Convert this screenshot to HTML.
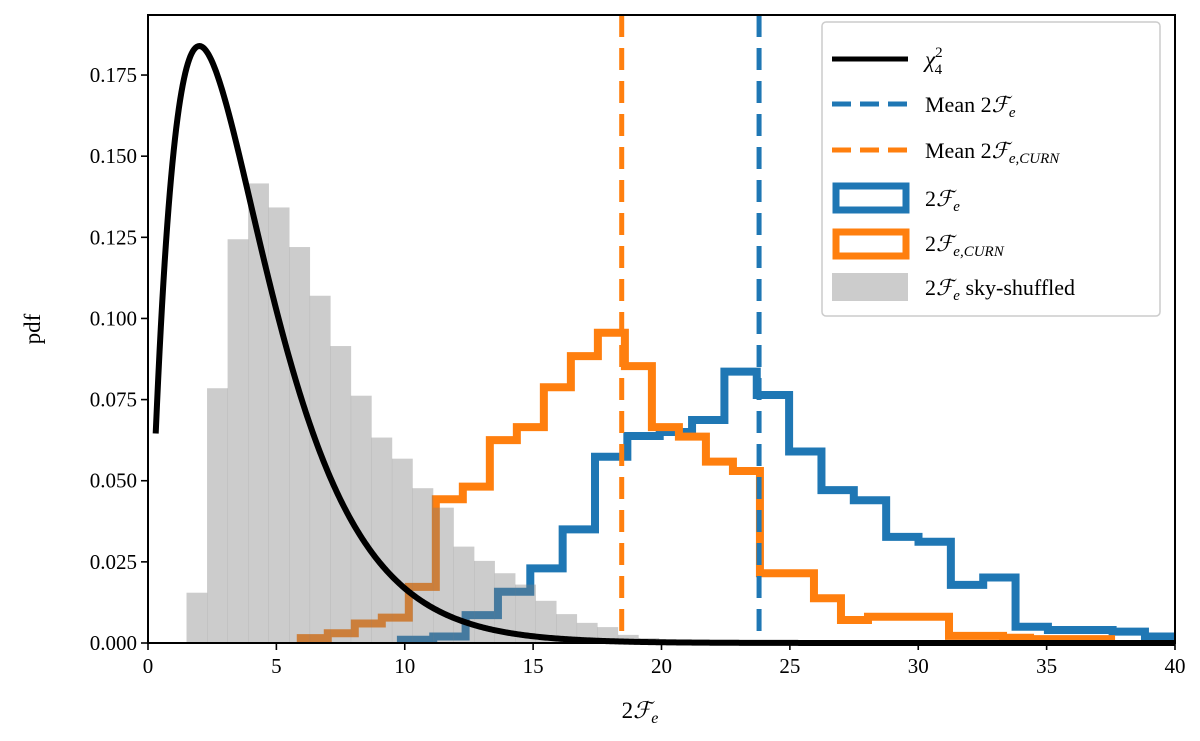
<!DOCTYPE html>
<html><head><meta charset="utf-8"><style>
body{margin:0;background:#fff;}
svg{display:block;font-family:"Liberation Serif",serif;}
</style></head><body>
<svg id="chart" width="1200" height="741" viewBox="0 0 1200 741">
<g id="plot"></g>
<g><text x="640" y="718" text-anchor="middle" font-size="23">2<tspan font-style="italic">ℱ</tspan><tspan font-size="16" font-style="italic" dy="5">e</tspan></text></g>
<text x="40" y="329" text-anchor="middle" font-size="23" transform="rotate(-90 40 329)">pdf</text>
<g>
<rect x="822" y="22" width="338" height="294" rx="4" fill="#fff" fill-opacity="0.85" stroke="#ccc" stroke-width="1.5"/>
<g><line x1="832" x2="908" y1="59" y2="59" stroke="#000" stroke-width="5"/><text x="925" y="67" font-size="23" font-style="italic">χ<tspan font-size="15" dy="-10" font-style="normal">2</tspan><tspan font-size="15" dx="-8" dy="17" font-style="normal">4</tspan></text></g>
<g><line x1="832" x2="908" y1="104" y2="104" stroke="#1f77b4" stroke-width="5" stroke-dasharray="19 9"/><text x="925" y="112" font-size="22">Mean 2<tspan font-style="italic">ℱ</tspan><tspan font-size="15" font-style="italic" dy="5">e</tspan></text></g>
<g><line x1="832" x2="908" y1="150" y2="150" stroke="#ff7f0e" stroke-width="5" stroke-dasharray="19 9"/><text x="925" y="158" font-size="22">Mean 2<tspan font-style="italic">ℱ</tspan><tspan font-size="15" font-style="italic" dy="5">e,CURN</tspan></text></g>
<g><rect x="836" y="186" width="70" height="24" fill="none" stroke="#1f77b4" stroke-width="7"/><text x="925" y="206" font-size="22">2<tspan font-style="italic">ℱ</tspan><tspan font-size="15" font-style="italic" dy="5">e</tspan></text></g>
<g><rect x="836" y="232" width="70" height="24" fill="none" stroke="#ff7f0e" stroke-width="7"/><text x="925" y="251" font-size="22">2<tspan font-style="italic">ℱ</tspan><tspan font-size="15" font-style="italic" dy="5">e,CURN</tspan></text></g>
<g><rect x="832" y="273" width="76" height="28" fill="#808080" fill-opacity="0.4"/><text x="925" y="295" font-size="22">2<tspan font-style="italic">ℱ</tspan><tspan font-size="15" font-style="italic" dy="5">e</tspan><tspan dy="-5"> sky-shuffled</tspan></text></g>
</g>
</svg>
<script>
// ---- data ----
const grayStart = 1.5, grayWidth = 0.8;
const grayValues = [0.0155,0.0785,0.1244,0.1416,0.1342,0.122,0.107,0.0915,0.0762,0.0633,0.0568,0.0477,0.0417,0.0297,0.0253,0.0215,0.018,0.013,0.0089,0.0062,0.0049,0.0025,0.0015,0.001,0.0005,0.0003];
const blueStart = 9.85, blueWidth = 1.26;
const blueValues = [0.001,0.002,0.0086,0.0158,0.023,0.035,0.0574,0.0638,0.065,0.0687,0.0836,0.0764,0.059,0.0471,0.044,0.0327,0.0312,0.0179,0.0202,0.005,0.004,0.004,0.0035,0.002];
const orangeStart = 5.95, orangeWidth = 1.052;
const orangeValues = [0.0015,0.003,0.006,0.0078,0.0173,0.0443,0.0482,0.0625,0.0665,0.0788,0.0884,0.0956,0.0853,0.0665,0.0636,0.0559,0.053,0.0215,0.0215,0.0138,0.0071,0.0081,0.0081,0.0081,0.0022,0.0022,0.0016,0.0012,0.0012,0.0012];
const meanBlue = [23.8];
const meanOrange = [18.45];
const chiDof = [4];
const chiRange = [0.3, 40];
const xTicks = [0,5,10,15,20,25,30,35,40];
const yTicks = [0,0.025,0.05,0.075,0.1,0.125,0.15,0.175];

// ---- axes ----
const X0=148,X1=1175,Y0=643,Y1=15;
const xs = v => X0 + (v-0)/(40-0)*(X1-X0);
const ys = v => Y0 - v/0.1935*(Y0-Y1);
const NS="http://www.w3.org/2000/svg";
const plot=document.getElementById('plot');
function mk(tag,attrs,parent){const e=document.createElementNS(NS,tag);for(const k in attrs)e.setAttribute(k,attrs[k]);(parent||plot).appendChild(e);return e;}

function stepPath(start,w,vals){
  let d=`M${xs(start)},${ys(0)}`;
  vals.forEach((v,i)=>{d+=` L${xs(start+i*w)},${ys(v)} L${xs(start+(i+1)*w)},${ys(v)}`;});
  d+=` L${xs(start+vals.length*w)},${ys(0)}`;
  return d;
}
const clip=mk('clipPath',{id:'pc'});mk('rect',{x:X0,y:Y1,width:X1-X0,height:Y0-Y1},clip);

let p=mk('path',{d:stepPath(blueStart,blueWidth,blueValues),fill:'none',stroke:'#1f77b4','stroke-width':8,'clip-path':'url(#pc)'});


p=mk('path',{d:stepPath(orangeStart,orangeWidth,orangeValues),fill:'none',stroke:'#ff7f0e','stroke-width':8,'clip-path':'url(#pc)'});


grayValues.forEach((v,i)=>{
  const r=mk('rect',{x:xs(grayStart+i*grayWidth),y:ys(v),width:xs(grayWidth)-xs(0)+0.3,height:ys(0)-ys(v),fill:'#808080','fill-opacity':0.4});
  
  
});
p=mk('line',{x1:xs(meanBlue[0]),x2:xs(meanBlue[0]),y1:Y1,y2:Y0,stroke:'#1f77b4','stroke-width':5,'stroke-dasharray':'22 11'});


p=mk('line',{x1:xs(meanOrange[0]),x2:xs(meanOrange[0]),y1:Y1,y2:Y0,stroke:'#ff7f0e','stroke-width':5,'stroke-dasharray':'22 11'});


function chiPdf(x,k){const h=k/2;let g=1;for(let i=1;i<h;i++)g*=i;return Math.pow(x,h-1)*Math.exp(-x/2)/(Math.pow(2,h)*g);}
let d='';for(let x=chiRange[0];x<=chiRange[1];x+=0.05){d+=(d?' L':'M')+xs(x).toFixed(2)+','+ys(chiPdf(x,chiDof[0])).toFixed(2);}
p=mk('path',{d:d,fill:'none',stroke:'#000','stroke-width':6});


p=mk('rect',{x:X0,y:Y1,width:X1-X0,height:Y0-Y1,fill:'none',stroke:'#000','stroke-width':2});


xTicks.forEach(t=>{
  mk('line',{x1:xs(t),x2:xs(t),y1:Y0,y2:Y0+7,stroke:'#000','stroke-width':1.6});
  const tx=mk('text',{x:xs(t),y:Y0+30,'text-anchor':'middle','font-size':21});tx.textContent=t;
  
  
});
yTicks.forEach(t=>{
  mk('line',{x1:X0-7,x2:X0,y1:ys(t),y2:ys(t),stroke:'#000','stroke-width':1.6});
  const tx=mk('text',{x:X0-11,y:ys(t)+7,'text-anchor':'end','font-size':21});tx.textContent=t.toFixed(3);
  
  
});
</script>
</body></html>
